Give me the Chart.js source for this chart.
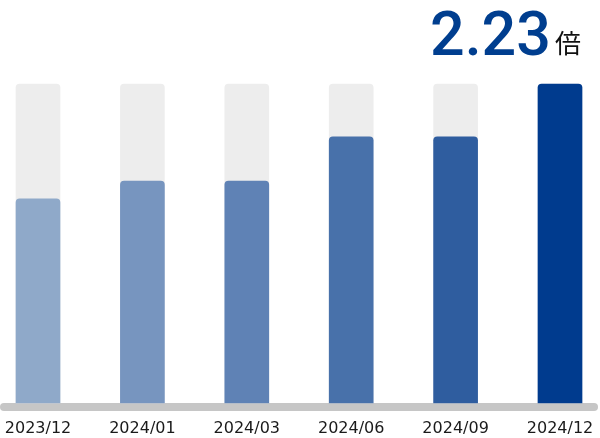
<!DOCTYPE html>
<html>
<head>
<meta charset="utf-8">
<script src="https://cdn.jsdelivr.net/npm/chart.js@4"></script>
<style>
  html, body { margin: 0; padding: 0; background: #fff; }
  #wrap { width: 600px; height: 438px; }
</style>
</head>
<body>
<div id="wrap"><canvas id="growthChart" width="600" height="438"></canvas></div>
<script>
const periods = ['2023/12', '2024/01', '2024/03', '2024/06', '2024/09', '2024/12'];
const values = [64, 69.6, 69.6, 83.4, 83.4, 100];
const trackValues = [100, 100, 100, 100, 100, 100];
const barColors = ['#8fa9c9', '#7795bf', '#5f82b5', '#4871aa', '#2f5d9f', '#003b8e'];
const headline = '2.23';
const headlineUnit = '倍';

const overlay = {
  id: 'overlay',
  beforeDatasetsDraw(chart) {
    const c = chart.ctx;
    // baseline
    c.save();
    c.strokeStyle = '#c6c6c6';
    c.lineWidth = 8;
    c.lineCap = 'round';
    c.beginPath();
    c.moveTo(4, chart.chartArea.bottom + 4);
    c.lineTo(594, chart.chartArea.bottom + 4);
    c.stroke();
    c.restore();
  },
  afterDraw(chart) {
    const c = chart.ctx;
    c.save();
    c.textBaseline = 'alphabetic';
    c.fillStyle = '#003e8f';
    c.font = '500 61px Roboto';
    c.textAlign = 'left';
    c.fillText(headline, 430, 55);
    c.fillStyle = '#111';
    c.font = '26px "Noto Sans CJK JP"';
    c.fillText(headlineUnit, 555, 53);
    c.restore();
  }
};

new Chart(document.getElementById('growthChart').getContext('2d'), {
  type: 'bar',
  data: {
    labels: periods,
    datasets: [
      {
        data: values,
        backgroundColor: barColors,
        barThickness: 44,
        grouped: false,
        order: 1,
        clip: false,
        borderRadius: { topLeft: 4, topRight: 4 },
        borderSkipped: false
      },
      {
        data: trackValues,
        backgroundColor: '#ededed',
        barThickness: 44,
        grouped: false,
        order: 2,
        clip: false,
        borderRadius: { topLeft: 4, topRight: 4 },
        borderSkipped: false
      }
    ]
  },
  options: {
    responsive: false,
    animation: false,
    layout: { padding: { left: 38, right: 40, top: 84, bottom: 0 } },
    plugins: { legend: { display: false }, tooltip: { enabled: false } },
    scales: {
      x: {
        offset: false,
        grid: { display: false, drawTicks: false },
        border: { display: false },
        ticks: {
          color: '#1a1a1a',
          padding: 16,
          autoSkip: false,
          maxRotation: 0,
          font: { family: 'DejaVu Sans', size: 16 }
        },
        afterFit(scale) {
          scale.paddingLeft = 0;
          scale.paddingRight = 0;
          scale.height = 35;
        }
      },
      y: { display: false, min: 0, max: 100 }
    }
  },
  plugins: [overlay]
});
</script>
</body>
</html>
